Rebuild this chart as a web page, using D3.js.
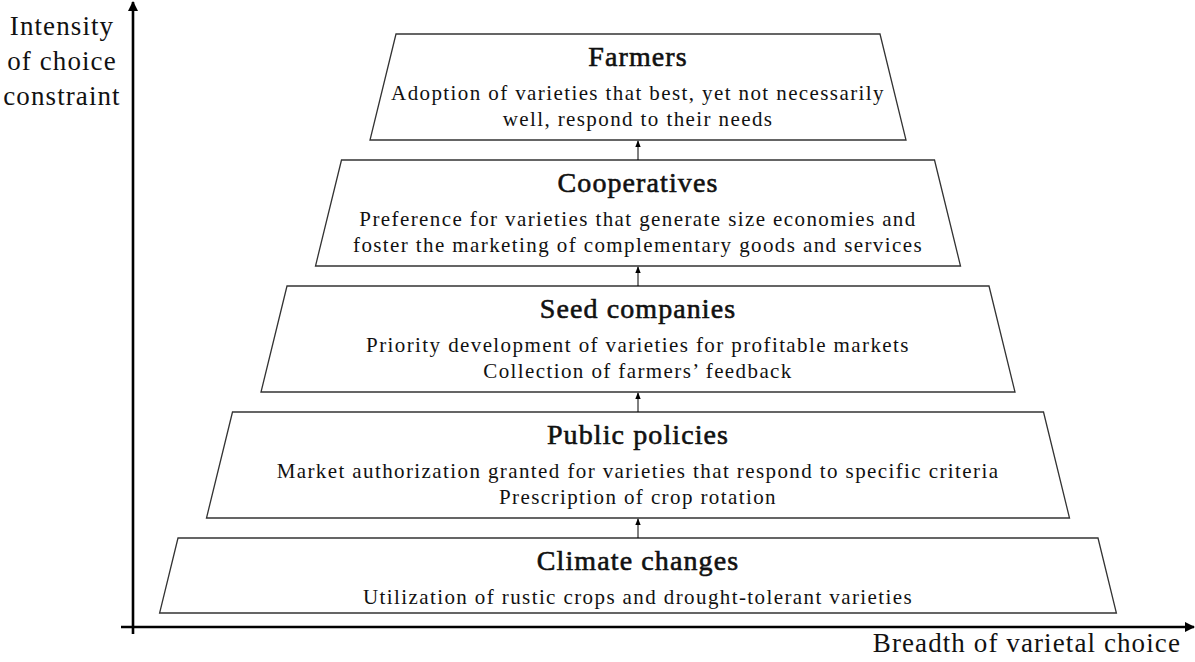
<!DOCTYPE html>
<html>
<head>
<meta charset="utf-8">
<script src="https://cdn.jsdelivr.net/npm/d3@7"></script>
<style>
  body { margin: 0; background: #fff; }
  text { font-family: "Liberation Serif", "DejaVu Serif", serif; fill: #111; }
</style>
</head>
<body>
<div id="chart"></div>
<script>
// levels from top (most constraining) to bottom
const levels = ["Farmers", "Cooperatives", "Seed companies", "Public policies", "Climate changes"];
const descriptions = [
  ["Adoption of varieties that best, yet not necessarily", "well, respond to their needs"],
  ["Preference for varieties that generate size economies and", "foster the marketing of complementary goods and services"],
  ["Priority development of varieties for profitable markets", "Collection of farmers\u2019 feedback"],
  ["Market authorization granted for varieties that respond to specific criteria", "Prescription of crop rotation"],
  ["Utilization of rustic crops and drought-tolerant varieties"]
];
const yAxisLabel = ["Intensity", "of choice", "constraint"];
const xAxisLabel = "Breadth of varietal choice";

const width = 1195, height = 662;
const cx = 638;

const svg = d3.select('#chart').append('svg')
  .attr('width', width)
  .attr('height', height);

const defs = svg.append('defs');
defs.append('marker')
  .attr('id', 'axisHead')
  .attr('viewBox', '0 0 10 10')
  .attr('refX', 9).attr('refY', 5)
  .attr('markerWidth', 4).attr('markerHeight', 4)
  .attr('orient', 'auto')
  .append('path').attr('d', 'M0,0 L10,5 L0,10 z').attr('fill', '#000');
defs.append('marker')
  .attr('id', 'smallHead')
  .attr('viewBox', '0 0 10 10')
  .attr('refX', 9).attr('refY', 5)
  .attr('markerWidth', 7).attr('markerHeight', 7)
  .attr('orient', 'auto')
  .append('path').attr('d', 'M0,1 L10,5 L0,9 z').attr('fill', '#000');

// half width of each box grows with level index
const halfTop = d3.scaleLinear().domain([0, levels.length - 1]).range([242, 460]);
const slant = 26;
const gap = 20;

// box heights depend on number of description lines
let y0 = 34;
const boxes = levels.map((name, i) => {
  const h = 44 + 31 * descriptions[i].length;
  const b = { name, lines: descriptions[i], i, top: y0, bottom: y0 + h };
  y0 += h + gap;
  return b;
});

// axes
svg.append('line')
  .attr('x1', 133).attr('y1', 634)
  .attr('x2', 133).attr('y2', 2)
  .attr('stroke', '#000').attr('stroke-width', 2.6)
  .attr('marker-end', 'url(#axisHead)');
svg.append('line')
  .attr('x1', 121).attr('y1', 627)
  .attr('x2', 1194).attr('y2', 627)
  .attr('stroke', '#000').attr('stroke-width', 2.6)
  .attr('marker-end', 'url(#axisHead)');

svg.append('text')
  .attr('text-anchor', 'middle')
  .style('font-size', '27px')
  .style('letter-spacing', '1.1px')
  .selectAll('tspan')
  .data(yAxisLabel)
  .enter().append('tspan')
    .attr('x', 62)
    .attr('y', (d, i) => 35 + i * 35)
    .text(d => d);

svg.append('text')
  .attr('x', 1181).attr('y', 652)
  .attr('text-anchor', 'end')
  .style('font-size', '27px')
  .style('letter-spacing', '1.1px')
  .text(xAxisLabel);

// trapezoids
const g = svg.append('g');
const box = g.selectAll('g.level')
  .data(boxes)
  .enter().append('g')
  .attr('class', 'level');

box.append('path')
  .attr('d', d => {
    const ht = halfTop(d.i);
    const hb = ht + slant * (d.bottom - d.top) / 106;
    return d3.line()([
      [cx - ht, d.top], [cx + ht, d.top],
      [cx + hb, d.bottom], [cx - hb, d.bottom]
    ]) + 'Z';
  })
  .attr('fill', '#fff')
  .attr('stroke', '#333')
  .attr('stroke-width', 1.3);

box.append('text')
  .attr('x', cx)
  .attr('y', d => d.top + 32)
  .attr('text-anchor', 'middle')
  .style('font-size', '28px')
  .style('letter-spacing', '1.1px')
  .style('stroke', '#111')
  .style('stroke-width', '0.6px')
  .text(d => d.name);

box.each(function(d) {
  d3.select(this).append('text')
    .attr('text-anchor', 'middle')
    .style('font-size', '21px')
    .style('letter-spacing', '1.4px')
    .selectAll('tspan')
    .data(d.lines)
    .enter().append('tspan')
      .attr('x', cx)
      .attr('y', (l, j) => d.top + 66 + j * 26)
      .text(l => l);
});

// arrows between levels
g.selectAll('line.link')
  .data(boxes.slice(1))
  .enter().append('line')
  .attr('class', 'link')
  .attr('x1', cx).attr('x2', cx)
  .attr('y1', d => d.top)
  .attr('y2', (d, i) => boxes[i].bottom + 1)
  .attr('stroke', '#000').attr('stroke-width', 1)
  .attr('marker-end', 'url(#smallHead)');
</script>
</body>
</html>
